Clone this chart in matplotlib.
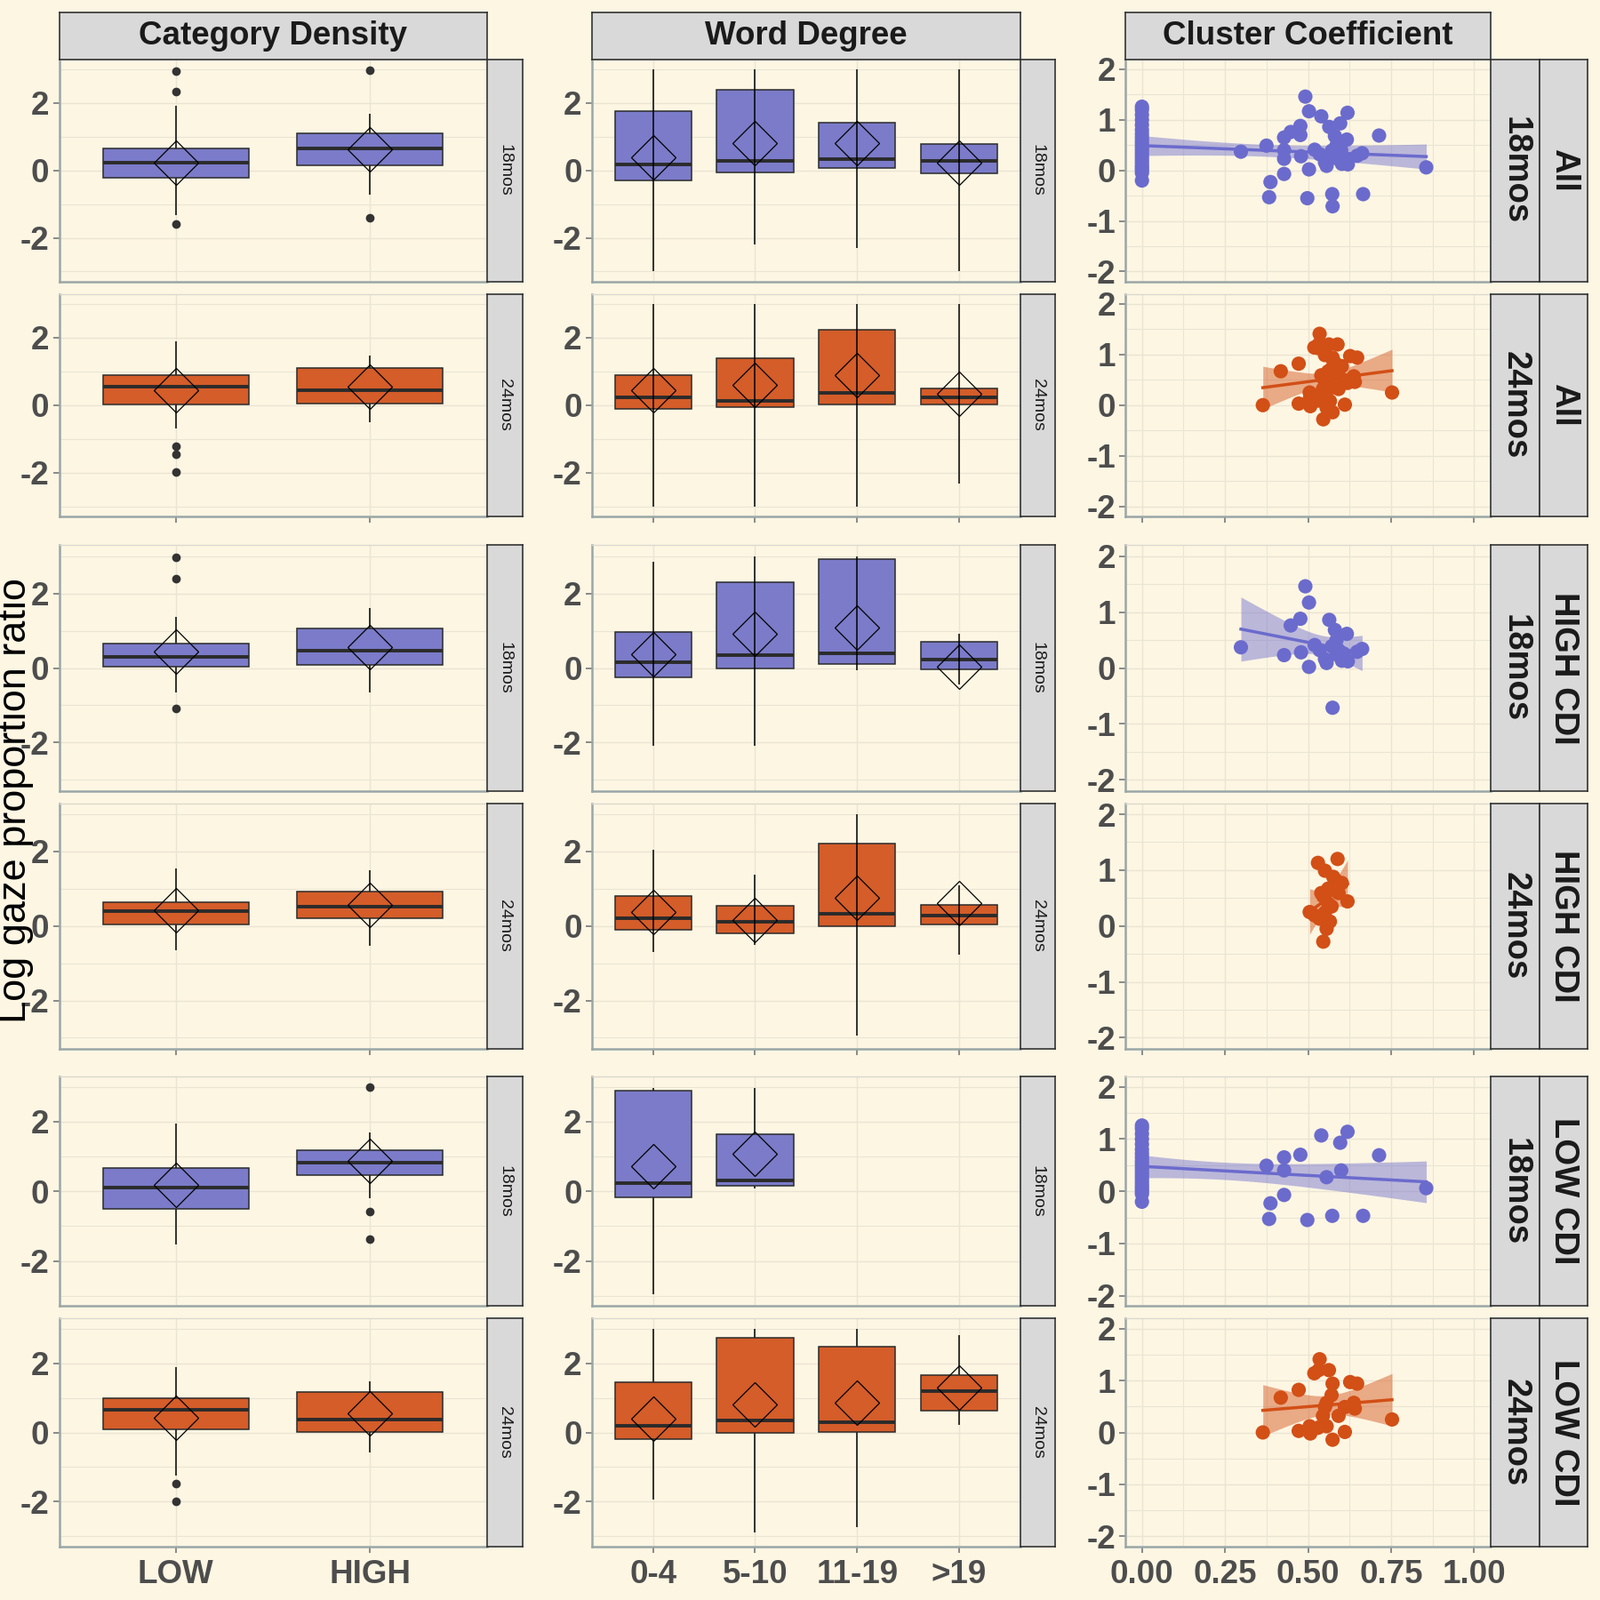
import numpy as np
import matplotlib
matplotlib.use("Agg")
import matplotlib.pyplot as plt
from matplotlib.ticker import FixedLocator

plt.rcParams['font.family'] = ['Liberation Sans', 'DejaVu Sans']

# ------------------------------------------------------------------ data
panel_titles = ["Category Density", "Word Degree", "Cluster Coefficient"]
row_groups = ["All", "All", "HIGH CDI", "HIGH CDI", "LOW CDI", "LOW CDI"]
row_ages = ["18mos", "24mos", "18mos", "24mos", "18mos", "24mos"]
density_levels = ["LOW", "HIGH"]
degree_levels = ["0-4", "5-10", "11-19", ">19"]
cc_ticks = [0.00, 0.25, 0.50, 0.75, 1.00]
cc_tick_labels = ["0.00", "0.25", "0.50", "0.75", "1.00"]
box_yticks = [-2, 0, 2]
box_ytick_labels = ["-2", "0", "2"]
cc_yticks = [-2, -1, 0, 1, 2]
cc_ytick_labels = ["-2", "-1", "0", "1", "2"]
y_label = "Log gaze proportion ratio"

# Category Density box statistics, one row per facet row, [LOW, HIGH]
cd_q1 = [[-0.23, 0.14], [0.03, 0.06], [0.03, 0.08], [0.05, 0.22], [-0.50, 0.47], [0.09, 0.01]]
cd_med = [[0.24, 0.66], [0.55, 0.45], [0.30, 0.46], [0.40, 0.51], [0.12, 0.82], [0.65, 0.37]]
cd_q3 = [[0.65, 1.09], [0.88, 1.09], [0.65, 1.05], [0.65, 0.92], [0.68, 1.18], [1.00, 1.17]]
cd_wlo = [[-1.33, -0.71], [-0.70, -0.50], [-0.65, -0.65], [-0.65, -0.54], [-1.53, -0.20], [-1.24, -0.59]]
cd_whi = [[1.93, 1.69], [1.90, 1.48], [1.38, 1.62], [1.54, 1.49], [1.94, 1.70], [1.90, 1.48]]
cd_mean = [[0.23, 0.63], [0.45, 0.55], [0.43, 0.57], [0.43, 0.57], [0.18, 0.88], [0.43, 0.55]]
cd_out = [[[2.94, 2.35, -1.58], [2.98, -1.41]],
          [[-1.21, -1.45, -1.97], []],
          [[2.97, 2.40, -1.08], []],
          [[], []],
          [[], [3.00, -0.59, -1.38]],
          [[-1.48, -1.99], []]]

# Word Degree box statistics, [0-4, 5-10, 11-19, >19]
wd_q1 = [[-0.29, -0.07, 0.06, -0.09], [-0.12, -0.06, 0.03, 0.03], [-0.24, 0.00, 0.10, -0.03],
         [-0.11, -0.19, 0.00, 0.03], [-0.17, 0.16, None, None], [-0.18, 0.00, 0.02, 0.63]]
wd_med = [[0.17, 0.28, 0.33, 0.29], [0.24, 0.12, 0.36, 0.24], [0.16, 0.35, 0.40, 0.22],
          [0.22, 0.11, 0.32, 0.27], [0.24, 0.30, None, None], [0.20, 0.34, 0.30, 1.19]]
wd_q3 = [[1.76, 2.38, 1.42, 0.79], [0.90, 1.39, 2.24, 0.50], [0.97, 2.30, 2.92, 0.70],
         [0.81, 0.54, 2.22, 0.57], [2.88, 1.63, None, None], [1.46, 2.73, 2.47, 1.66]]
wd_wlo = [[-3.0, -2.2, -2.3, -3.0], [-3.0, -3.0, -3.0, -2.33], [-2.08, -2.08, -0.05, -0.45],
          [-0.70, -0.51, -2.95, -0.78], [-2.95, 0.08, None, None], [-1.93, -2.89, -2.74, 0.22]]
wd_whi = [[3.0, 3.0, 3.0, 3.0], [3.0, 3.0, 3.0, 3.0], [2.84, 3.0, 3.0, 0.92],
          [2.05, 1.38, 3.0, 1.10], [2.97, 2.97, None, None], [3.0, 3.0, 3.0, 2.82]]
wd_mean = [[0.39, 0.81, 0.82, 0.22], [0.45, 0.60, 0.90, 0.33], [0.38, 0.92, 1.08, 0.03],
           [0.38, 0.16, 0.76, 0.62], [0.73, 1.09, None, None], [0.39, 0.82, 0.86, 1.29]]

# Cluster Coefficient scatter points
hi18_x = [0.298, 0.428, 0.448, 0.477, 0.479, 0.492, 0.503, 0.503, 0.520, 0.535, 0.551, 0.556, 0.564,
          0.574, 0.581, 0.586, 0.592, 0.602, 0.607, 0.617, 0.620, 0.648, 0.663, 0.572, 0.586]
hi18_y = [0.37, 0.23, 0.76, 0.88, 0.28, 1.46, 1.17, 0.02, 0.41, 0.32, 0.16, 0.09, 0.86,
          -0.71, 0.68, 0.50, 0.32, 0.13, 0.26, 0.61, 0.12, 0.29, 0.34, 0.39, 0.24]
lo18_x = [0.0] * 21 + [0.375, 0.387, 0.383, 0.428, 0.428, 0.428, 0.477, 0.498, 0.540, 0.556,
                       0.573, 0.597, 0.600, 0.619, 0.666, 0.714, 0.856]
lo18_y = [1.26, 1.20, 1.10, 1.00, 0.90, 0.80, 0.72, 0.65, 0.58, 0.52, 0.46, 0.40, 0.34, 0.28,
          0.22, 0.16, 0.10, 0.05, 0.00, -0.05, -0.20,
          0.49, -0.23, -0.53, 0.65, 0.40, -0.07, 0.70, -0.55, 1.07, 0.27,
          -0.47, 0.93, 0.40, 1.14, -0.47, 0.69, 0.06]
hi24_x = [0.505, 0.530, 0.589, 0.582, 0.602, 0.540, 0.546, 0.561, 0.592, 0.619, 0.520, 0.535,
          0.551, 0.566, 0.556, 0.546, 0.571, 0.561, 0.551, 0.576]
hi24_y = [0.25, 1.13, 1.20, 0.83, 0.77, 0.59, 0.53, 0.67, 0.59, 0.44, 0.19, 0.13,
          0.24, 0.08, -0.05, -0.28, 0.35, 0.40, 0.99, 0.88]
lo24_x = [0.364, 0.418, 0.472, 0.472, 0.505, 0.507, 0.519, 0.535, 0.532, 0.563, 0.574, 0.571, 0.551,
          0.545, 0.556, 0.530, 0.574, 0.592, 0.611, 0.611, 0.627, 0.648, 0.638, 0.641, 0.753, 0.556]
lo24_y = [0.00, 0.67, 0.82, 0.03, 0.12, -0.02, 1.14, 1.41, 1.20, 1.20, 0.94, 0.72, 0.49,
          0.32, 0.12, 0.09, -0.14, 0.32, 0.01, 0.49, 0.97, 0.94, 0.57, 0.46, 0.25, 0.57]

cc_x = [hi18_x + lo18_x, hi24_x + lo24_x, hi18_x, hi24_x, lo18_x, lo24_x]
cc_y = [hi18_y + lo18_y, hi24_y + lo24_y, hi18_y, hi24_y, lo18_y, lo24_y]

# ------------------------------------------------------------------ style
BG = '#FDF6E3'
GRID = '#EAE4D3'
AXIS = '#9AA7A7'
STRIP = '#D9D9D9'
STRIP_EDGE = '#333333'
TICK_TXT = '#4D4D4D'
BOX_FILL = {'18mos': '#7B7BC9', '24mos': '#D45D29'}
PT_COL = {'18mos': '#6B6BCD', '24mos': '#D24F16'}
TICK_SIZE = 26.5

W = H = 1800.0


def rect(x0, x1, y0, y1):
    return [x0 / W, 1 - y1 / H, (x1 - x0) / W, (y1 - y0) / H]


col_x = [(66.6, 547.6), (665.8, 1148.0), (1266.0, 1677.0)]
strip_x = [[(547.6, 587.8)], [(1148.0, 1187.0)], [(1677.0, 1732.0), (1732.0, 1786.0)]]
row_y = [(66.6, 316.8), (330.6, 581.0), (613.0, 890.0), (903.5, 1180.0), (1211.0, 1469.4), (1483.0, 1740.0)]
title_y = (13.8, 66.6)

fig = plt.figure(figsize=(18, 18), dpi=100, facecolor=BG)


def t975(dof):
    z = 1.959964
    return (z + (z ** 3 + z) / (4 * dof) + (5 * z ** 5 + 16 * z ** 3 + 3 * z) / (96 * dof ** 2)
            + (3 * z ** 7 + 19 * z ** 5 + 17 * z ** 3 - 15 * z) / (384 * dof ** 3))


def lm_band(x, y, n=100):
    x = np.asarray(x, float)
    y = np.asarray(y, float)
    b1, b0 = np.polyfit(x, y, 1)
    xs = np.linspace(x.min(), x.max(), n)
    yhat = b0 + b1 * xs
    resid = y - (b0 + b1 * x)
    dof = len(x) - 2
    s = np.sqrt(np.sum(resid ** 2) / dof)
    sxx = np.sum((x - x.mean()) ** 2)
    se = s * np.sqrt(1.0 / len(x) + (xs - x.mean()) ** 2 / sxx)
    t = t975(dof)
    return xs, yhat, yhat - t * se, yhat + t * se


def strip_axes(x0, x1, y0, y1, text, size, weight, rotation):
    sa = fig.add_axes(rect(x0, x1, y0, y1))
    sa.set_facecolor(STRIP)
    sa.set_xticks([])
    sa.set_yticks([])
    for sp in sa.spines.values():
        sp.set_color(STRIP_EDGE)
        sp.set_linewidth(1.2)
    sa.text(0.5, 0.5, text, transform=sa.transAxes, ha='center', va='center',
            fontsize=size, fontweight=weight, rotation=rotation, color='#1A1A1A')
    return sa


def style_panel(ax, row):
    ax.set_facecolor(BG)
    ax.set_axisbelow(True)
    ax.grid(True, which='major', color=GRID, lw=1.0)
    ax.grid(True, which='minor', color=GRID, lw=0.8)
    for side in ['left', 'bottom']:
        ax.spines[side].set_color(AXIS)
        ax.spines[side].set_linewidth(1.8)
    ax.spines['top'].set_color('#DAD8CE')
    ax.spines['top'].set_linewidth(1.0)
    ax.spines['right'].set_visible(False)
    ax.tick_params(axis='y', which='major', direction='out', length=5, width=1.2, color='#777777',
                   labelsize=TICK_SIZE, labelcolor=TICK_TXT, pad=3)
    bottom_row = row % 2 == 1
    ax.tick_params(axis='x', which='major', direction='out', length=5 if bottom_row else 0, width=1.2,
                   color='#777777', labelsize=TICK_SIZE, labelcolor=TICK_TXT, pad=5,
                   labelbottom=(row == 5))
    ax.tick_params(which='minor', length=0)
    for lab in ax.get_yticklabels() + ax.get_xticklabels():
        lab.set_fontweight('bold')


def box_panel(ax, row, levels, q1, med, q3, wlo, whi, mean, outs, through):
    age = row_ages[row]
    stats, pos = [], []
    for i in range(len(levels)):
        if q1[row][i] is None:
            continue
        stats.append(dict(q1=q1[row][i], med=med[row][i], q3=q3[row][i],
                          whislo=wlo[row][i], whishi=whi[row][i], mean=mean[row][i],
                          fliers=outs[row][i] if outs is not None else []))
        pos.append(i + 1)
    ax.bxp(stats, positions=pos, widths=0.75, patch_artist=True, showmeans=True,
           showcaps=False, manage_ticks=False,
           boxprops=dict(facecolor=BOX_FILL[age], edgecolor='#2B2B2B', linewidth=1.1, zorder=2),
           medianprops=dict(color='#2B2B2B', linewidth=2.8, zorder=2.2),
           whiskerprops=dict(visible=False),
           flierprops=dict(marker='o', markersize=6, markerfacecolor='#333333',
                           markeredgecolor='#333333'),
           meanprops=dict(marker='D', markersize=25.5, markerfacecolor='none',
                          markeredgecolor='black', markeredgewidth=0.9, zorder=4))
    for s, p in zip(stats, pos):
        ax.vlines(p, s['whislo'], s['whishi'], color='black', lw=1.1,
                  zorder=3.5 if through else 1.5)
    ax.set_xlim(0.4, len(levels) + 0.6)
    ax.set_ylim(-3.3, 3.3)
    ax.xaxis.set_major_locator(FixedLocator(range(1, len(levels) + 1)))
    ax.set_xticklabels(levels)
    ax.yaxis.set_major_locator(FixedLocator(box_yticks))
    ax.set_yticklabels(box_ytick_labels)
    ax.yaxis.set_minor_locator(FixedLocator([-3, -1, 1, 3]))


for row in range(6):
    y0, y1 = row_y[row]
    age = row_ages[row]

    # --- Category Density
    ax = fig.add_axes(rect(col_x[0][0], col_x[0][1], y0, y1))
    box_panel(ax, row, density_levels, cd_q1, cd_med, cd_q3, cd_wlo, cd_whi, cd_mean, cd_out, False)
    style_panel(ax, row)
    sx0, sx1 = strip_x[0][0]
    strip_axes(sx0, sx1, y0, y1, age, 14, 'normal', 270)

    # --- Word Degree
    ax = fig.add_axes(rect(col_x[1][0], col_x[1][1], y0, y1))
    box_panel(ax, row, degree_levels, wd_q1, wd_med, wd_q3, wd_wlo, wd_whi, wd_mean, None, row < 4)
    style_panel(ax, row)
    sx0, sx1 = strip_x[1][0]
    strip_axes(sx0, sx1, y0, y1, age, 14, 'normal', 270)

    # --- Cluster Coefficient
    ax = fig.add_axes(rect(col_x[2][0], col_x[2][1], y0, y1))
    xs, yhat, lo, hi = lm_band(cc_x[row], cc_y[row])
    ax.fill_between(xs, lo, hi, color=PT_COL[age], alpha=0.45, lw=0, zorder=2)
    ax.plot(xs, yhat, color=PT_COL[age], lw=2.5, zorder=2.5)
    ax.scatter(cc_x[row], cc_y[row], s=135, color=PT_COL[age], edgecolors='none', zorder=3)
    ax.set_xlim(-0.05, 1.05)
    ax.set_ylim(-2.2, 2.2)
    ax.xaxis.set_major_locator(FixedLocator(cc_ticks))
    ax.set_xticklabels(cc_tick_labels)
    ax.xaxis.set_minor_locator(FixedLocator([0.125, 0.375, 0.625, 0.875]))
    ax.yaxis.set_major_locator(FixedLocator(cc_yticks))
    ax.set_yticklabels(cc_ytick_labels)
    ax.yaxis.set_minor_locator(FixedLocator([-1.5, -0.5, 0.5, 1.5]))
    style_panel(ax, row)
    (a0, a1), (b0, b1) = strip_x[2]
    strip_axes(a0, a1, y0, y1, age, 27.5, 'bold', 270)
    strip_axes(b0, b1, y0, y1, row_groups[row], 27.5, 'bold', 270)

# column titles
for c in range(3):
    strip_axes(col_x[c][0], col_x[c][1], title_y[0], title_y[1], panel_titles[c], 26.5, 'bold', 0)

fig.text(18 / W, 1 - 901 / H, y_label, rotation=90, ha='center', va='center',
         fontsize=32.5, color='black')

fig.savefig('out.png', dpi=100, facecolor=BG)
